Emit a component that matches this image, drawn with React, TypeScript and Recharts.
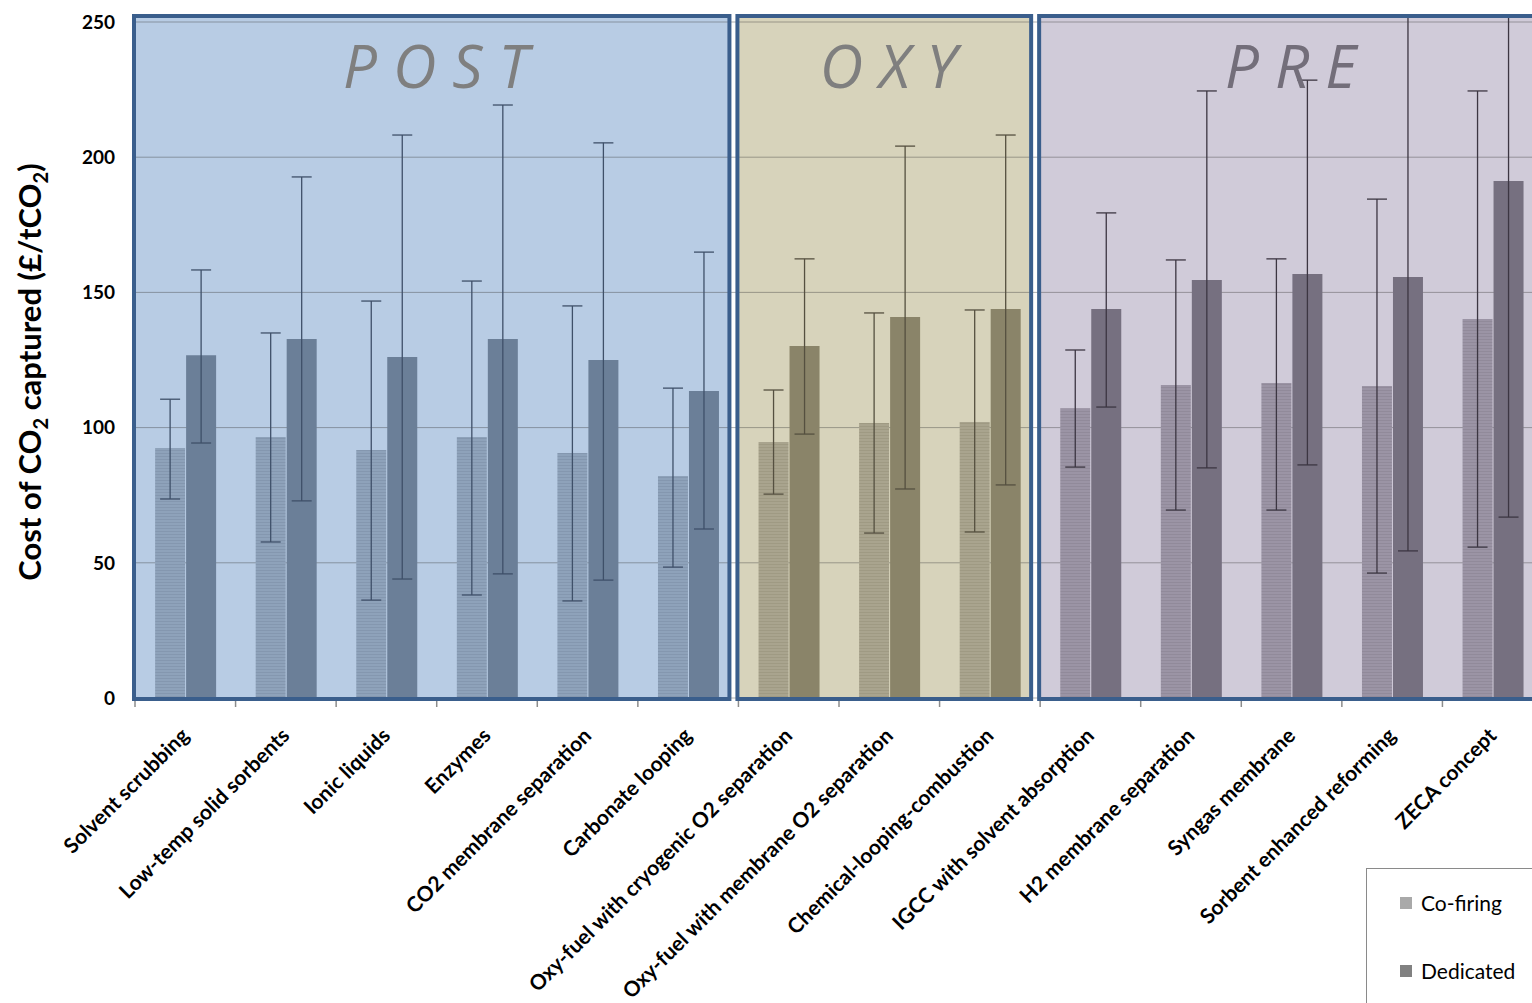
import React from "react";
import {
  BarChart,
  Bar,
  XAxis,
  YAxis,
  CartesianGrid,
  ErrorBar,
  ReferenceArea,
} from "recharts";

// technologies, grouped by capture route
const categories = [
  "Solvent scrubbing",
  "Low-temp solid sorbents",
  "Ionic liquids",
  "Enzymes",
  "CO2 membrane separation",
  "Carbonate looping",
  "Oxy-fuel with cryogenic O2 separation",
  "Oxy-fuel with membrane O2 separation",
  "Chemical-looping-combustion",
  "IGCC with solvent absorption",
  "H2 membrane separation",
  "Syngas membrane",
  "Sorbent enhanced reforming",
  "ZECA concept",
];
const groups = ["post", "post", "post", "post", "post", "post", "oxy", "oxy", "oxy", "pre", "pre", "pre", "pre", "pre"];

// £/tCO2
const cofiring = [92.5, 96.5, 91.7, 96.5, 90.6, 82.1, 94.7, 101.7, 102.1, 107.2, 115.8, 116.5, 115.4, 140.2];
const cofiringLow = [73.6, 57.7, 36.2, 38.1, 35.9, 48.4, 75.4, 61.0, 61.4, 85.4, 69.5, 69.5, 46.2, 55.8];
const cofiringHigh = [110.5, 135, 146.8, 154.2, 145, 114.6, 113.9, 142.4, 143.5, 128.7, 162, 162.4, 184.5, 224.5];
const dedicated = [126.8, 132.8, 126.1, 132.8, 125, 113.5, 130.2, 140.9, 143.9, 143.9, 154.6, 156.8, 155.7, 191.2];
const dedicatedLow = [94.3, 72.9, 44, 45.9, 43.6, 62.5, 97.6, 77.3, 78.8, 107.6, 85.1, 86.2, 54.4, 66.9];
// last two run off the top of the chart
const dedicatedHigh = [158.3, 192.7, 208.2, 219.3, 205.3, 164.9, 162.4, 204.1, 208.2, 179.4, 224.5, 228.5, 252, 252];

const yTicks = [0, 50, 100, 150, 200, 250];

const regions = [
  { id: "post", title: "POST", from: "Solvent scrubbing", to: "Carbonate looping" },
  { id: "oxy", title: "OXY", from: "Oxy-fuel with cryogenic O2 separation", to: "Chemical-looping-combustion" },
  { id: "pre", title: "PRE", from: "IGCC with solvent absorption", to: "ZECA concept" },
];

const theme: Record<string, { bg: string; co: string; coLine: string; ded: string; err: string; title: string }> = {
  post: { bg: "#b8cce4", co: "#8ea2ba", coLine: "#8497af", ded: "#6b7f98", err: "#3f5069", title: "#7f7f7f" },
  oxy: { bg: "#d7d3bb", co: "#a9a48e", coLine: "#9f9a83", ded: "#8a8469", err: "#555040", title: "#7f7f7f" },
  pre: { bg: "#d0cbd9", co: "#9b94a5", coLine: "#918a9a", ded: "#767080", err: "#3c3642", title: "#736e7a" },
};

const data = categories.map((name, i) => {
  const g = groups[i];
  return {
    name,
    [`${g}Co`]: cofiring[i],
    [`${g}CoErr`]: [cofiring[i] - cofiringLow[i], cofiringHigh[i] - cofiring[i]],
    [`${g}Ded`]: dedicated[i],
    [`${g}DedErr`]: [dedicated[i] - dedicatedLow[i], dedicatedHigh[i] - dedicated[i]],
  };
});

const BORDER = "#3a5e8c";

const CategoryTick = (props: any) => {
  const { x, y, payload } = props;
  const half = payload.offset ?? 0;
  const tx = x + 5;
  const ty = y + 39;
  return (
    <g>
      <line x1={x - half} x2={x - half} y1={y + 3} y2={y + 9} stroke="#8c8c8c" strokeWidth={1.5} />
      <text
        x={tx}
        y={ty}
        transform={`rotate(-45 ${tx} ${ty})`}
        textAnchor="end"
        fontFamily="Lato"
        fontWeight={700}
        fontSize={21}
        fill="#000"
      >
        {payload.value}
      </text>
    </g>
  );
};

const YTitle = (props: any) => {
  const vb = props.viewBox;
  const cx = vb.x + 41;
  const cy = vb.y + vb.height / 2 + 12;
  return (
    <text
      x={cx}
      y={cy}
      transform={`rotate(-90 ${cx} ${cy})`}
      textAnchor="middle"
      fontFamily="Lato"
      fontWeight={700}
      fontSize={31}
      fill="#000"
    >
      Cost of CO
      <tspan fontSize={20} dy={7}>2</tspan>
      <tspan dy={-7}> captured (£/tCO</tspan>
      <tspan fontSize={20} dy={7}>2</tspan>
      <tspan dy={-7}>)</tspan>
    </text>
  );
};

const regionFill = (fill: string) => (p: any) => (
  <rect x={p.x - 1} y={p.y - 6} width={p.width - 8} height={p.height + 7} fill={fill} />
);
const regionBorder = (p: any) => (
  <rect x={p.x - 1} y={p.y - 6} width={p.width - 8} height={p.height + 7} fill="none" stroke={BORDER} strokeWidth={4} />
);
const regionTitle = (title: string, color: string) => (p: any) => {
  const vb = p.viewBox;
  return (
    <text
      x={vb.x + vb.width / 2 + 7}
      y={vb.y + 66}
      textAnchor="middle"
      fontFamily="Open Sans"
      fontStyle="italic"
      fontSize={60}
      letterSpacing={16}
      fill={color}
    >
      {title}
    </text>
  );
};

const App = () => {
  return (
    <div
      style={{
        position: "absolute",
        left: 0,
        top: 0,
        width: 1532,
        height: 1003,
        overflow: "hidden",
        background: "#fff",
      }}
    >
      <BarChart
        width={1560}
        height={1003}
        data={data}
        margin={{ top: 22, right: 17, bottom: 0, left: 0 }}
        barCategoryGap="20%"
        barGap={1}
      >
        <defs>
          {regions.map((r) => (
            <pattern key={r.id} id={`stripe-${r.id}`} width={4} height={3} patternUnits="userSpaceOnUse">
              <rect width={4} height={3} fill={theme[r.id].co} />
              <rect width={4} height={1} fill={theme[r.id].coLine} />
            </pattern>
          ))}
        </defs>
        {regions.map((r) => (
          <ReferenceArea
            key={`fill-${r.id}`}
            xAxisId="post"
            x1={r.from}
            x2={r.to}
            y1={0}
            y2={250}
            zIndex={-200}
            shape={regionFill(theme[r.id].bg)}
          />
        ))}
        <CartesianGrid vertical={false} stroke="#3c3c3c" strokeOpacity={0.4} />
        <XAxis
          xAxisId="post"
          dataKey="name"
          interval={0}
          height={305}
          tickSize={0}
          tickMargin={0}
          axisLine={false}
          tick={<CategoryTick />}
        />
        <XAxis xAxisId="oxy" dataKey="name" hide height={0} />
        <XAxis xAxisId="pre" dataKey="name" hide height={0} />
        <YAxis
          width={135}
          domain={[0, 250]}
          ticks={yTicks}
          allowDataOverflow
          tickLine={false}
          tickSize={0}
          tickMargin={20}
          axisLine={{ stroke: "#7f8c9e", strokeWidth: 1 }}
          tick={{ fontFamily: "Lato", fontWeight: 700, fontSize: 19, fill: "#000" }}
          label={YTitle}
        />
        {regions.map((r) => [
          <Bar
            key={`${r.id}-co`}
            xAxisId={r.id}
            dataKey={`${r.id}Co`}
            fill={`url(#stripe-${r.id})`}
            isAnimationActive={false}
          >
            <ErrorBar dataKey={`${r.id}CoErr`} direction="y" width={10} stroke={theme[r.id].err} strokeWidth={1.3} />
          </Bar>,
          <Bar
            key={`${r.id}-ded`}
            xAxisId={r.id}
            dataKey={`${r.id}Ded`}
            fill={theme[r.id].ded}
            isAnimationActive={false}
          >
            <ErrorBar dataKey={`${r.id}DedErr`} direction="y" width={10} stroke={theme[r.id].err} strokeWidth={1.3} />
          </Bar>,
        ])}
        {regions.map((r) => (
          <ReferenceArea
            key={`border-${r.id}`}
            xAxisId="post"
            x1={r.from}
            x2={r.to}
            y1={0}
            y2={250}
            zIndex={1500}
            shape={regionBorder}
            label={regionTitle(r.title, theme[r.id].title)}
          />
        ))}
      </BarChart>
      <div
        style={{
          position: "absolute",
          left: 1366,
          top: 868,
          width: 200,
          height: 160,
          border: "1px solid #8a8a8a",
          background: "#fff",
          fontFamily: "Lato",
          fontSize: 21,
          color: "#000",
        }}
      >
        <div style={{ position: "absolute", left: 33, top: 21, display: "flex", alignItems: "center" }}>
          <span style={{ display: "inline-block", width: 12, height: 12, background: "#a9a9a9", marginRight: 9 }} />
          Co-firing
        </div>
        <div style={{ position: "absolute", left: 33, top: 89, display: "flex", alignItems: "center" }}>
          <span style={{ display: "inline-block", width: 12, height: 12, background: "#818181", marginRight: 9 }} />
          Dedicated
        </div>
      </div>
    </div>
  );
};

export default App;
